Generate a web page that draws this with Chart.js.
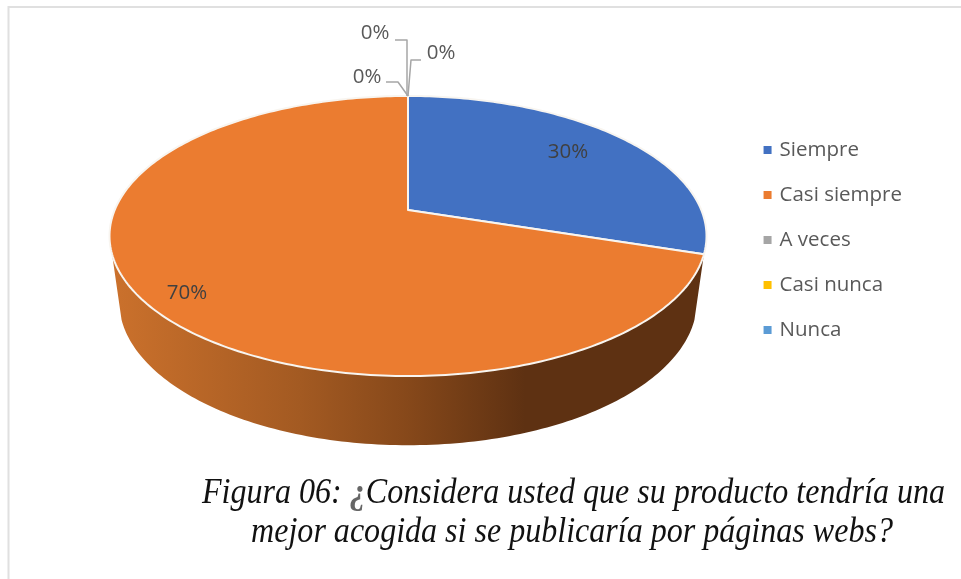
<!DOCTYPE html>
<html lang="es">
<head>
<meta charset="utf-8">
<style>html,body{margin:0;padding:0;background:#fff}canvas{display:block}</style>
<script src="https://cdn.jsdelivr.net/npm/chart.js@4"></script>
</head>
<body>
<canvas id="c" width="961" height="579"></canvas>
<script>
const categories = ["Siempre", "Casi siempre", "A veces", "Casi nunca", "Nunca"];
const values = [30, 70, 0, 0, 0];
const colors = ["#4271C2", "#EB7C30", "#A5A5A5", "#FFC000", "#5B9BD5"];
const captionLine1 = ["Figura 06: ", "¿", "Considera usted que su producto tendría una"];
const captionLine2 = "mejor acogida si se publicaría por páginas webs?";

// perspective of the tilted disc
const view = {cx: 408, apexY: 210, tilt: -0.1857, yScale: 96.2, R: 293.3};
const rimDrop = {k: 0.968, cy: 236, cyLow: 301, s: 1.03};
const sideRange = [108, 252];
const sideStops = [[112, "#CB712C"], [300, "#A35A22"], [408, "#86481A"], [525, "#5E3112"], [705, "#5E3112"]];
// label placement
const bigLabelPos = [[568, 152], [187, 293]];
const zeroLabelPos = [[367, 77], [375, 33], [441, 53]];
const zeroLeaders = [
  [[386, 82], [398, 82], [408, 96]],
  [[395, 40], [407, 40], [407, 96]],
  [[421, 60], [411, 60], [408, 96]]
];

function project(deg, f) {
  const t = deg * Math.PI / 180, u = f * Math.sin(t), v = -f * Math.cos(t);
  const d = 1 + view.tilt * v;
  return [view.cx + view.R * u / d, (view.apexY + view.yScale * v) / d];
}
function lowRim(p) {
  return [view.cx + rimDrop.k * (p[0] - view.cx), rimDrop.cyLow + rimDrop.s * (p[1] - rimDrop.cy)];
}
const toDeg = a => (a + Math.PI / 2) * 180 / Math.PI;

const disc3d = {
  id: "disc3d",
  beforeDraw(chart) {
    const ctx = chart.ctx;
    ctx.save();
    ctx.strokeStyle = "#E0E0E0";
    ctx.lineWidth = 2;
    ctx.beginPath();
    ctx.moveTo(961, 7); ctx.lineTo(8.5, 7); ctx.lineTo(8.5, 579);
    ctx.stroke();
    ctx.restore();
  },
  beforeDatasetsDraw(chart) {
    const ctx = chart.ctx, arcs = chart.getDatasetMeta(0).data;
    ctx.save();
    // side wall
    arcs.forEach(arc => {
      if (arc.endAngle - arc.startAngle <= 0) return;
      const a = Math.max(toDeg(arc.startAngle), sideRange[0]);
      const b = Math.min(toDeg(arc.endAngle), sideRange[1]);
      if (b <= a) return;
      const up = [], low = [];
      for (let d = a; d <= b + 1e-6; d += 1) { const p = project(d, 1); up.push(p); low.push(lowRim(p)); }
      const g = ctx.createLinearGradient(sideStops[0][0], 0, sideStops[sideStops.length - 1][0], 0);
      const w = sideStops[sideStops.length - 1][0] - sideStops[0][0];
      sideStops.forEach(s => g.addColorStop((s[0] - sideStops[0][0]) / w, s[1]));
      ctx.fillStyle = g;
      ctx.beginPath();
      up.forEach((p, i) => i ? ctx.lineTo(p[0], p[1]) : ctx.moveTo(p[0], p[1]));
      low.reverse().forEach(p => ctx.lineTo(p[0], p[1]));
      ctx.closePath();
      ctx.fill();
    });
    // top face
    arcs.forEach((arc, i) => {
      const a = toDeg(arc.startAngle), b = toDeg(arc.endAngle);
      if (b - a <= 0) return;
      const apex = project(0, 0);
      ctx.beginPath();
      ctx.moveTo(apex[0], apex[1]);
      for (let d = a; d <= b + 1e-6; d += 1) { const p = project(d, 1); ctx.lineTo(p[0], p[1]); }
      ctx.closePath();
      ctx.fillStyle = colors[i];
      ctx.fill();
      ctx.strokeStyle = "#F8F5F0";
      ctx.lineWidth = 2;
      ctx.lineJoin = "round";
      ctx.stroke();
    });
    // data labels
    const total = values.reduce((s, v) => s + v, 0);
    ctx.textAlign = "center";
    ctx.textBaseline = "middle";
    ctx.font = '20.5px "Open Sans"';
    ctx.strokeStyle = "#A6A6A6";
    ctx.lineWidth = 1.5;
    zeroLeaders.forEach(l => {
      ctx.beginPath();
      l.forEach((p, i) => i ? ctx.lineTo(p[0], p[1]) : ctx.moveTo(p[0], p[1]));
      ctx.stroke();
    });
    let z = 0, n = 0;
    values.forEach((v, i) => {
      const txt = Math.round(v / total * 100) + "%";
      if (v > 0) {
        ctx.fillStyle = "#404040";
        ctx.fillText(txt, bigLabelPos[n][0], bigLabelPos[n][1]); n++;
      } else {
        ctx.fillStyle = "#595959";
        ctx.fillText(txt, zeroLabelPos[z][0], zeroLabelPos[z][1]); z++;
      }
    });
    ctx.restore();
    return false;
  },
  afterDraw(chart) {
    const ctx = chart.ctx;
    ctx.save();
    ctx.textBaseline = "alphabetic";
    ctx.textAlign = "left";
    const itF = 'italic 36px "Liberation Serif"';
    const boldF = 'bold italic 36px "Liberation Serif"';
    ctx.font = itF;
    const w0 = ctx.measureText(captionLine1[0]).width;
    const w2 = ctx.measureText(captionLine1[2]).width;
    ctx.font = boldF;
    const w1 = ctx.measureText(captionLine1[1]).width;
    const total = w0 + w1 + w2, left = 202, width = 743, sx = width / total;
    ctx.translate(left, 503);
    ctx.scale(sx, 1);
    ctx.fillStyle = "#111111";
    ctx.font = itF;
    ctx.fillText(captionLine1[0], 0, 0);
    ctx.font = boldF;
    ctx.fillStyle = "#666666";
    ctx.fillText(captionLine1[1], w0, 0);
    ctx.fillStyle = "#111111";
    ctx.font = itF;
    ctx.fillText(captionLine1[2], w0 + w1, 0);
    ctx.setTransform(1, 0, 0, 1, 0, 0);
    ctx.translate(572, 542);
    ctx.scale(sx, 1);
    ctx.textAlign = "center";
    ctx.fillText(captionLine2, 0, 0);
    ctx.restore();
  }
};

new Chart(document.getElementById("c"), {
  type: "pie",
  data: {
    labels: categories,
    datasets: [{data: values, backgroundColor: colors, borderWidth: 0}]
  },
  options: {
    responsive: false,
    animation: false,
    rotation: 0,
    layout: {padding: {left: 52, right: 49, top: 0, bottom: 99}},
    plugins: {
      tooltip: {enabled: false},
      title: {display: false},
      legend: {
        display: true,
        position: "right",
        labels: {
          usePointStyle: true,
          pointStyle: "rect",
          boxWidth: 3.5,
          boxHeight: 8,
          padding: 24.5,
          color: "#595959",
          font: {family: '"Open Sans"', size: 20.5}
        }
      }
    }
  },
  plugins: [disc3d]
});
</script>
</body>
</html>
